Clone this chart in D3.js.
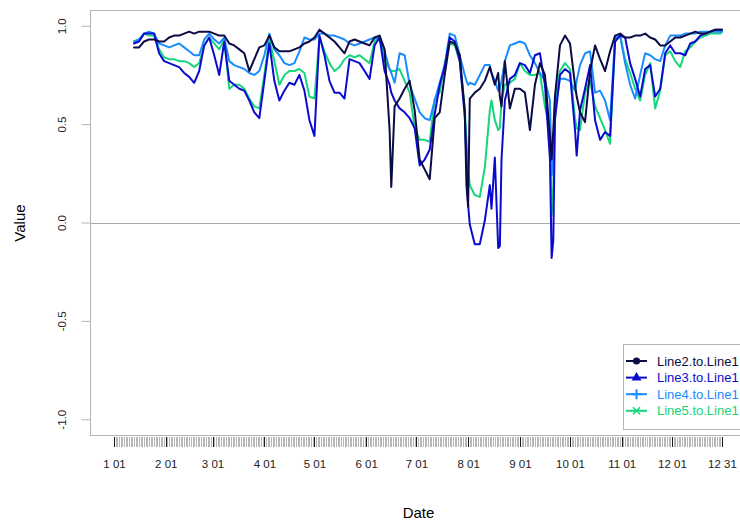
<!DOCTYPE html>
<html>
<head>
<meta charset="utf-8">
<script src="https://cdn.jsdelivr.net/npm/d3@7"></script>
<style>
  body { margin: 0; background: #fff; overflow: hidden; }
  svg { display: block; font-family: "Liberation Sans", Arial, Helvetica, sans-serif; }
</style>
</head>
<body>
<svg id="chart" width="740" height="520"></svg>
<script>
// Day of year (0 = Jan 1) for each observation of the rolling correlations
const dayOfYear = [
  12, 15, 18, 21, 24, 27, 30, 33, 36, 39, 42, 45, 48, 51, 54, 57, 60,
  63, 66, 69, 72, 75, 78, 81, 84, 87, 90, 93, 96, 99, 102, 105, 108, 111,
  114, 117, 120, 123, 126, 129, 132, 135, 138, 141, 144, 147, 150, 153, 156, 159, 162,
  165, 166, 168, 171, 174, 177, 180, 183, 186, 189, 192, 195, 198, 201, 204, 207, 210,
  211, 212, 213, 216, 219, 222, 225, 226, 228, 230, 231, 232, 234, 237, 240, 243, 246,
  249, 252, 255, 258, 261, 262, 263, 264, 267, 270, 273, 276, 277, 279, 282, 285, 288,
  291, 294, 297, 300, 303, 306, 309, 312, 315, 318, 321, 324, 327, 330, 333, 336, 339,
  342, 345, 348, 351, 354, 357, 360, 363, 364
];

const line2 = [
  0.89, 0.89, 0.92, 0.93, 0.93, 0.92, 0.92, 0.94, 0.95, 0.95, 0.96, 0.97, 0.96, 0.97, 0.97, 0.97, 0.96,
  0.95, 0.95, 0.91, 0.90, 0.88, 0.86, 0.77, 0.83, 0.89, 0.90, 0.95, 0.89, 0.87, 0.87, 0.87, 0.88, 0.89,
  0.91, 0.92, 0.94, 0.98, 0.96, 0.94, 0.92, 0.89, 0.86, 0.92, 0.93, 0.92, 0.91, 0.90, 0.94, 0.95, 0.88,
  0.47, 0.18, 0.59, 0.63, 0.68, 0.72, 0.57, 0.32, 0.27, 0.22, 0.53, 0.56, 0.75, 0.92, 0.91, 0.85, 0.57,
  0.19, 0.08, 0.63, 0.66, 0.68, 0.72, 0.79, 0.76, 0.70, 0.76, 0.64, 0.59, 0.82, 0.58, 0.68, 0.68, 0.66,
  0.47, 0.70, 0.81, 0.75, 0.44, 0.32, 0.47, 0.64, 0.90, 0.95, 0.91, 0.70, 0.64, 0.56, 0.51, 0.77, 0.90,
  0.83, 0.77, 0.87, 0.95, 0.96, 0.94, 0.94, 0.95, 0.95, 0.96, 0.94, 0.93, 0.90, 0.90, 0.92, 0.94, 0.94,
  0.95, 0.96, 0.97, 0.96, 0.96, 0.97, 0.98, 0.98, 0.98
];

const line3 = [
  0.91, 0.92, 0.96, 0.96, 0.96, 0.86, 0.82, 0.81, 0.80, 0.79, 0.76, 0.74, 0.71, 0.77, 0.90, 0.94, 0.85,
  0.75, 0.92, 0.72, 0.70, 0.68, 0.67, 0.62, 0.56, 0.53, 0.72, 0.91, 0.72, 0.62, 0.67, 0.71, 0.70, 0.75,
  0.67, 0.52, 0.44, 0.95, 0.85, 0.72, 0.66, 0.66, 0.63, 0.83, 0.82, 0.81, 0.77, 0.73, 0.90, 0.94, 0.77,
  0.70, 0.66, 0.62, 0.58, 0.56, 0.53, 0.48, 0.29, 0.32, 0.37, 0.55, 0.70, 0.79, 0.94, 0.92, 0.82, 0.54,
  0.32, 0.09, -0.01, -0.11, -0.11, 0.01, 0.19, 0.07, 0.33, -0.13, -0.12, 0.32, 0.62, 0.73, 0.75, 0.81, 0.80,
  0.76, 0.85, 0.86, 0.70, 0.32, -0.18, -0.09, 0.52, 0.75, 0.78, 0.76, 0.47, 0.34, 0.57, 0.68, 0.80, 0.52,
  0.42, 0.46, 0.44, 0.92, 0.95, 0.94, 0.81, 0.73, 0.64, 0.78, 0.80, 0.64, 0.68, 0.86, 0.90, 0.86, 0.86,
  0.85, 0.91, 0.92, 0.95, 0.96, 0.97, 0.98, 0.98, 0.98
];

const line4 = [
  0.92, 0.93, 0.96, 0.97, 0.96, 0.91, 0.90, 0.89, 0.90, 0.91, 0.89, 0.87, 0.85, 0.85, 0.93, 0.96, 0.93,
  0.91, 0.94, 0.82, 0.80, 0.79, 0.78, 0.76, 0.75, 0.77, 0.85, 0.96, 0.88, 0.85, 0.81, 0.80, 0.81, 0.87,
  0.94, 0.93, 0.93, 0.96, 0.96, 0.95, 0.95, 0.94, 0.93, 0.91, 0.90, 0.91, 0.92, 0.93, 0.94, 0.93, 0.87,
  0.78, 0.76, 0.71, 0.86, 0.85, 0.70, 0.63, 0.56, 0.53, 0.52, 0.62, 0.71, 0.80, 0.96, 0.95, 0.85, 0.75,
  0.72, 0.70, 0.71, 0.70, 0.75, 0.80, 0.80, 0.76, 0.72, 0.67, 0.68, 0.72, 0.82, 0.90, 0.91, 0.92, 0.91,
  0.85, 0.81, 0.76, 0.72, 0.62, 0.24, 0.32, 0.57, 0.73, 0.73, 0.72, 0.67, 0.72, 0.80, 0.86, 0.87, 0.66,
  0.67, 0.62, 0.52, 0.94, 0.95, 0.81, 0.70, 0.63, 0.75, 0.86, 0.85, 0.83, 0.82, 0.90, 0.95, 0.95, 0.95,
  0.96, 0.96, 0.96, 0.97, 0.97, 0.97, 0.97, 0.97, 0.97
];

const line5 = [
  0.92, 0.93, 0.96, 0.95, 0.95, 0.88, 0.84, 0.83, 0.83, 0.82, 0.82, 0.81, 0.79, 0.81, 0.90, 0.94, 0.91,
  0.88, 0.93, 0.68, 0.70, 0.70, 0.68, 0.63, 0.59, 0.58, 0.75, 0.93, 0.82, 0.70, 0.75, 0.77, 0.77, 0.78,
  0.76, 0.64, 0.63, 0.94, 0.87, 0.81, 0.77, 0.79, 0.83, 0.85, 0.84, 0.85, 0.83, 0.81, 0.92, 0.95, 0.82,
  0.78, 0.77, 0.77, 0.78, 0.72, 0.66, 0.48, 0.42, 0.42, 0.41, 0.63, 0.66, 0.81, 0.91, 0.90, 0.82, 0.58,
  0.42, 0.27, 0.19, 0.14, 0.13, 0.28, 0.57, 0.62, 0.52, 0.47, 0.48, 0.62, 0.70, 0.71, 0.73, 0.81, 0.77,
  0.75, 0.75, 0.76, 0.59, 0.47, 0.04, 0.17, 0.62, 0.77, 0.81, 0.78, 0.53, 0.48, 0.47, 0.66, 0.72, 0.59,
  0.53, 0.47, 0.40, 0.93, 0.95, 0.83, 0.76, 0.68, 0.62, 0.75, 0.81, 0.58, 0.67, 0.85, 0.87, 0.82, 0.79,
  0.87, 0.89, 0.92, 0.94, 0.95, 0.96, 0.96, 0.96, 0.97
];

const seriesNames = ["Line2.to.Line1", "Line3.to.Line1", "Line4.to.Line1", "Line5.to.Line1"];
const seriesColors = ["#0b0b45", "#0b0bd0", "#1a8cff", "#14d67a"];
const seriesSymbols = ["circle", "triangle", "plus", "cross"];

const yTickValues = [-1, -0.5, 0, 0.5, 1];
const yTickLabels = ["-1.0", "-0.5", "0.0", "0.5", "1.0"];
const xTickLabels = ["1 01", "2 01", "3 01", "4 01", "5 01", "6 01", "7 01",
                     "8 01", "9 01", "10 01", "11 01", "12 01", "12 31"];

// ---- scales ----
const YEAR0 = Date.UTC(2023, 0, 1);
const toDate = d => new Date(YEAR0 + d * 864e5);
const firstDay = toDate(0), lastDay = toDate(364);

const x = d3.scaleUtc().domain([firstDay, lastDay]).range([114, 722]);
const y = d3.scaleLinear().domain([-1.08, 1.08]).range([435, 10]);

// plot region extends 4% beyond the data range on each side
const span = 364 * 0.04;
const boxL = Math.round(x(toDate(-span))) + 0.5;
const boxR = Math.round(x(toDate(364 + span))) + 0.5;
const boxT = 10.5, boxB = 435.5;

const svg = d3.select("#chart");
const axisGrey = "#b4b4b4";

// horizontal reference at zero
svg.append("line")
  .attr("x1", boxL).attr("x2", boxR)
  .attr("y1", Math.round(y(0)) + 0.5).attr("y2", Math.round(y(0)) + 0.5)
  .attr("stroke", "#a9a9a9").attr("stroke-width", 1);

// ---- series lines ----
const series = [line2, line3, line4, line5].map((vals, i) => ({
  name: seriesNames[i],
  color: seriesColors[i],
  points: vals.map((v, j) => ({ date: toDate(dayOfYear[j]), v }))
}));

const line = d3.line().x(d => x(d.date)).y(d => y(d.v));

svg.append("g").selectAll("path")
  .data(series.slice().reverse())
  .join("path")
  .attr("d", d => line(d.points))
  .attr("fill", "none")
  .attr("stroke", d => d.color)
  .attr("stroke-width", 2)
  .attr("stroke-linejoin", "round")
  .attr("stroke-linecap", "round");

// ---- frame ----
svg.append("rect")
  .attr("x", boxL).attr("y", boxT)
  .attr("width", boxR - boxL).attr("height", boxB - boxT)
  .attr("fill", "none").attr("stroke", axisGrey).attr("stroke-width", 1);

// ---- y axis ----
const yAxis = svg.append("g")
  .attr("transform", `translate(${boxL},0)`)
  .call(d3.axisLeft(y).tickValues(yTickValues).tickSize(9)
    .tickFormat((d, i) => yTickLabels[i]));
yAxis.select(".domain").remove();
yAxis.selectAll(".tick line").attr("stroke", axisGrey);
yAxis.selectAll(".tick text")
  .attr("x", null).attr("dy", "0.35em")
  .attr("transform", "translate(-29,0) rotate(-90)")
  .attr("text-anchor", "middle")
  .attr("fill", "#222")
  .style("font-size", "11.5px");

// ---- x axis: daily minor ticks + monthly labelled ticks ----
const dailyTicks = d3.utcDay.range(firstDay, toDate(365));
const minor = svg.append("g")
  .attr("transform", "translate(0,437)")
  .call(d3.axisBottom(x).tickValues(dailyTicks).tickSize(10).tickFormat(""));
minor.select(".domain").remove();
minor.selectAll(".tick line")
  .attr("stroke", "#b8b8b8")
  .attr("shape-rendering", "crispEdges");

const monthTicks = d3.utcMonth.range(firstDay, lastDay).concat([lastDay]);
const major = svg.append("g")
  .attr("transform", "translate(0,437)")
  .call(d3.axisBottom(x).tickValues(monthTicks).tickSize(10)
    .tickFormat((d, i) => xTickLabels[i]));
major.select(".domain").remove();
major.selectAll(".tick line")
  .attr("stroke", "#1a1a1a")
  .attr("shape-rendering", "crispEdges");
major.selectAll(".tick text")
  .attr("y", 31).attr("dy", null)
  .attr("fill", "#222")
  .style("font-size", "11.5px");

// ---- axis titles ----
svg.append("text")
  .attr("x", (boxL + boxR) / 2).attr("y", 518)
  .attr("text-anchor", "middle")
  .style("font-size", "15px")
  .text("Date");

svg.append("text")
  .attr("transform", `translate(25,${(boxT + boxB) / 2}) rotate(-90)`)
  .attr("text-anchor", "middle")
  .style("font-size", "15px")
  .text("Value");

// ---- legend ----
const legend = svg.append("g");
legend.append("rect")
  .attr("x", 623.5).attr("y", 344.5)
  .attr("width", 140).attr("height", 85)
  .attr("fill", "#fff").attr("stroke", axisGrey);

const rows = legend.selectAll("g.row")
  .data(series)
  .join("g")
  .attr("class", "row")
  .attr("transform", (d, i) => `translate(0,${361 + i * 16.6})`);

rows.append("line")
  .attr("x1", 626).attr("x2", 647)
  .attr("stroke", d => d.color).attr("stroke-width", 2);

rows.each(function (d, i) {
  const g = d3.select(this);
  const cx = 636.5;
  const kind = seriesSymbols[i];
  if (kind === "circle") {
    g.append("circle").attr("cx", cx).attr("cy", 0).attr("r", 3.6).attr("fill", d.color);
  } else if (kind === "triangle") {
    g.append("path").attr("transform", `translate(${cx},0)`)
      .attr("d", d3.symbol(d3.symbolTriangle, 42)()).attr("fill", d.color);
  } else if (kind === "plus") {
    g.append("path").attr("d", `M${cx - 5},0H${cx + 5}M${cx},-5V5`)
      .attr("stroke", d.color).attr("stroke-width", 2);
  } else {
    g.append("path").attr("d", `M${cx - 3.5},-3.5L${cx + 3.5},3.5M${cx - 3.5},3.5L${cx + 3.5},-3.5`)
      .attr("stroke", d.color).attr("stroke-width", 1.6);
  }
});

rows.append("text")
  .attr("x", 657).attr("dy", "0.35em")
  .attr("fill", d => d.color)
  .style("font-size", "13px")
  .text(d => d.name);
</script>
</body>
</html>
